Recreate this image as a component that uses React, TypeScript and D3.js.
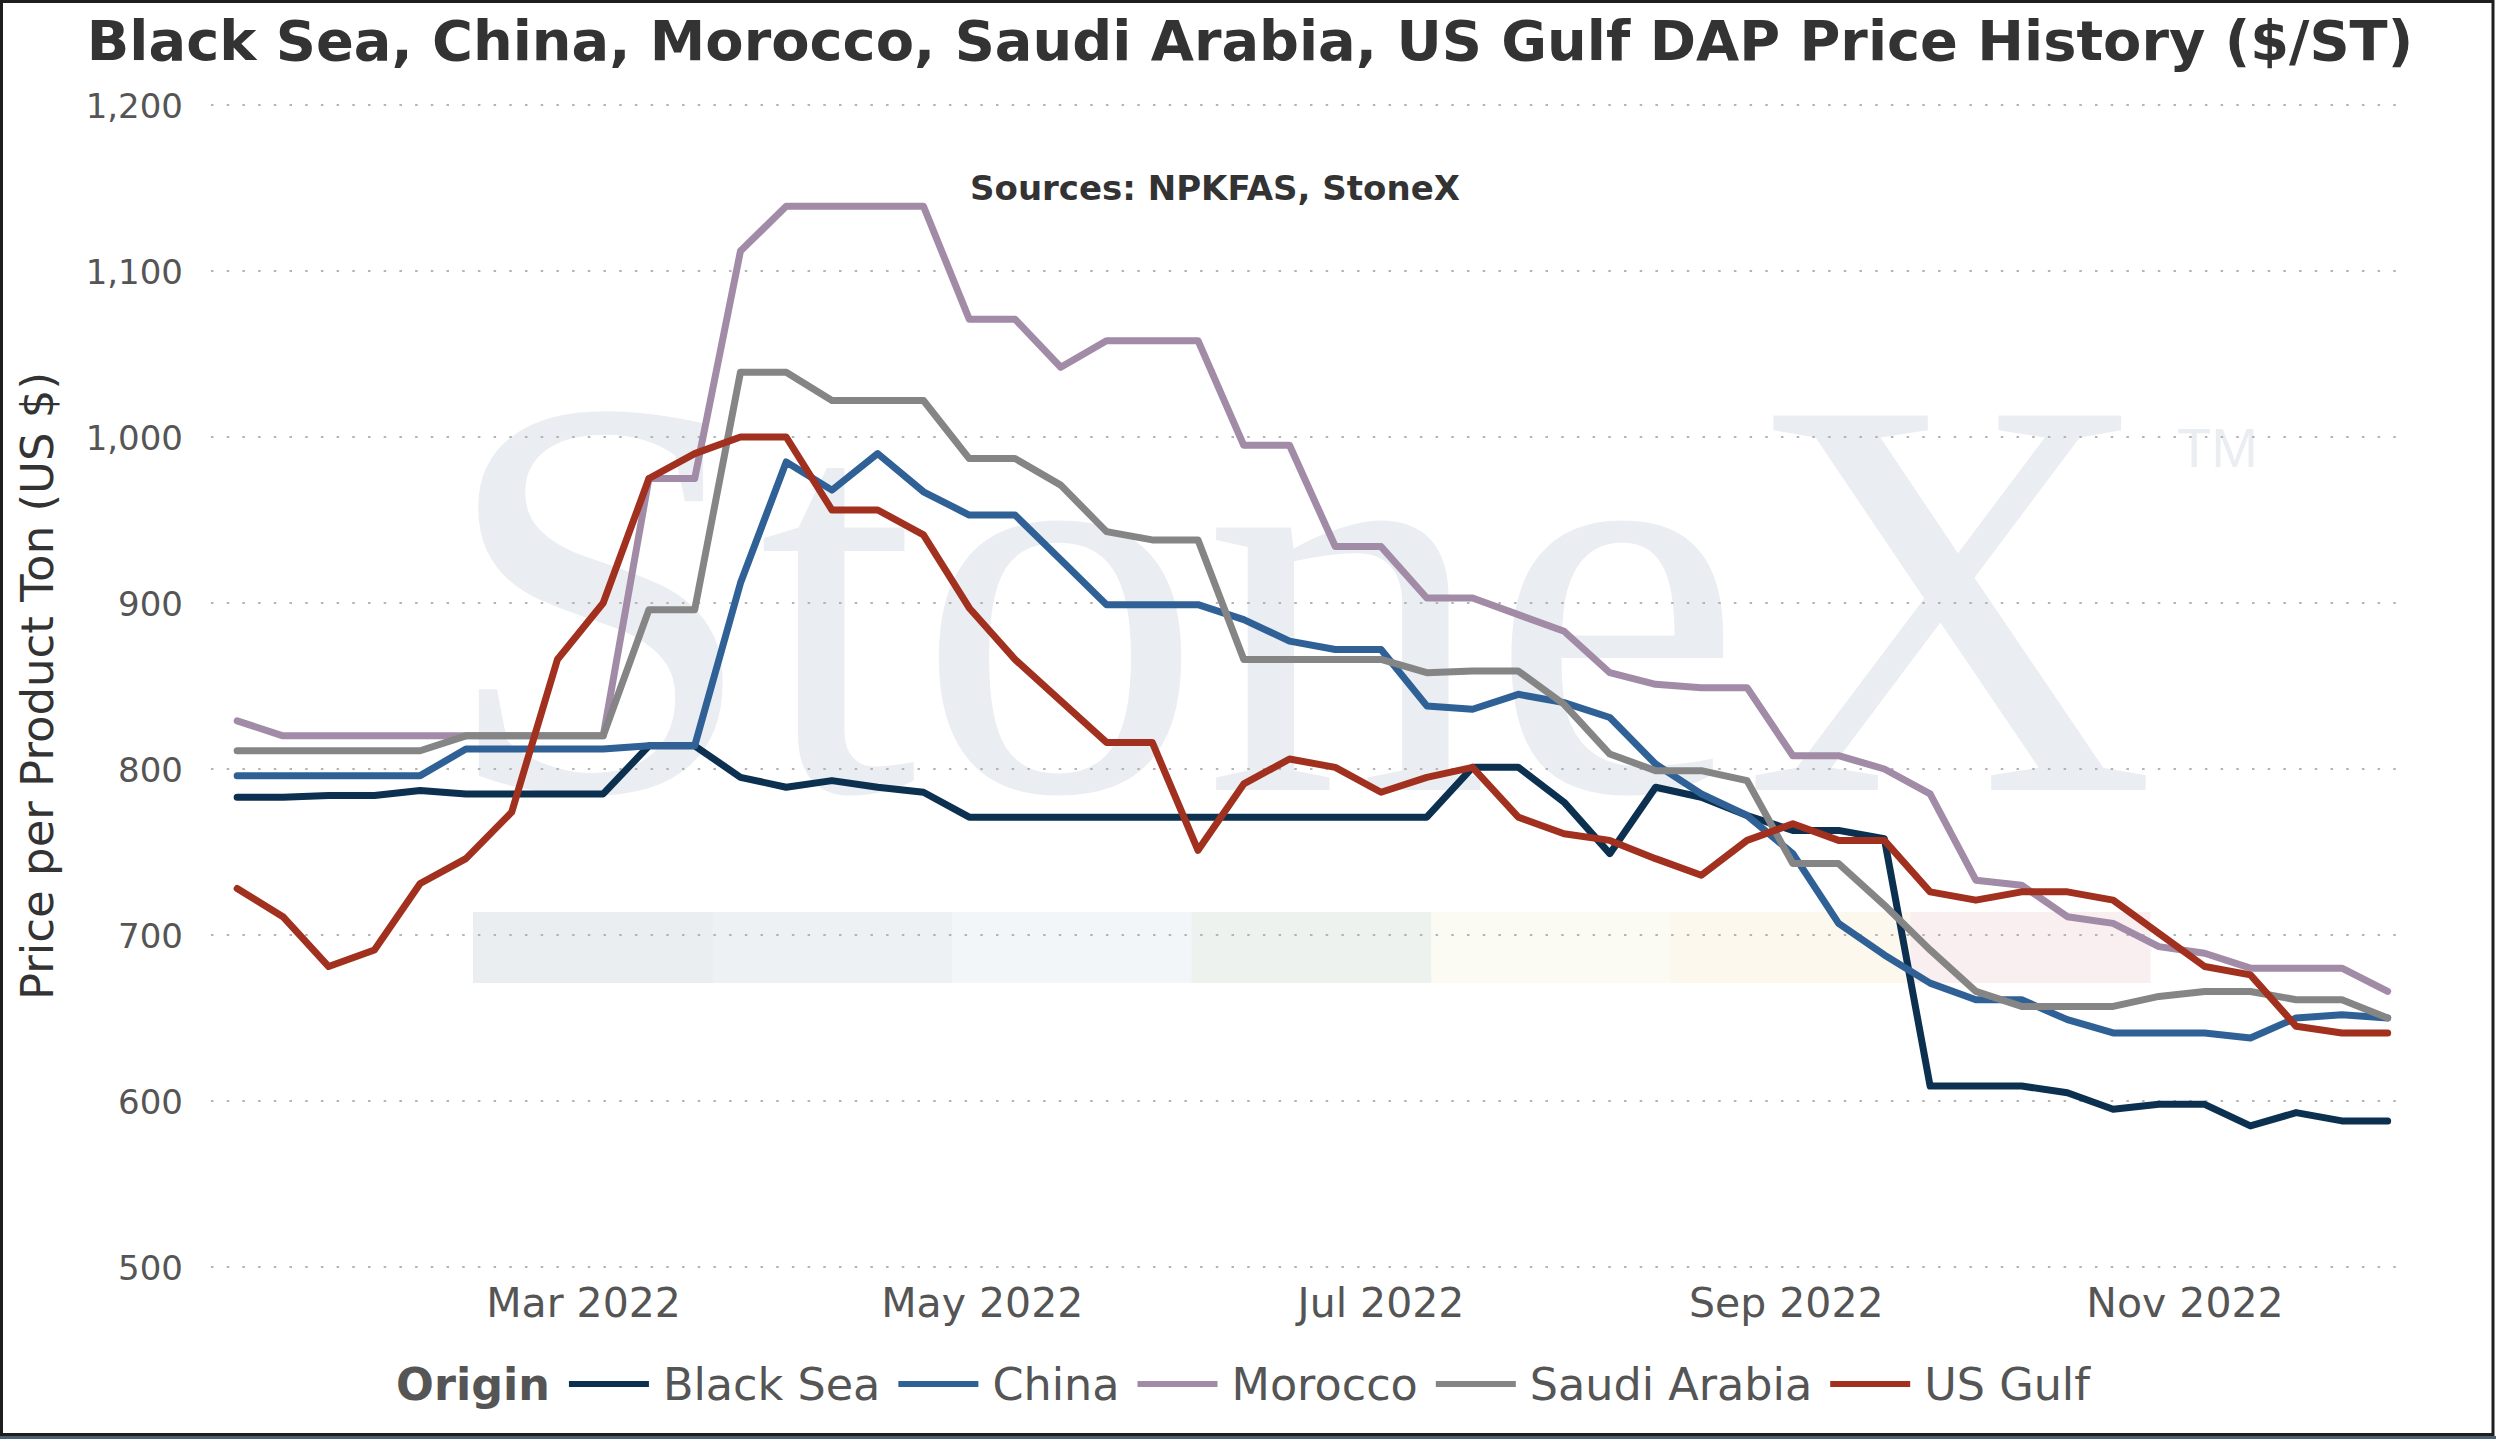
import { useEffect, useRef } from 'react'
import * as d3 from 'd3'

const W = 2496
const H = 1439
const FONT = '"DejaVu Sans", Verdana, sans-serif'

// weekly Friday prices, Jan 7 2022 .. Dec 2 2022
const DATES = d3.timeFriday.range(new Date(2022, 0, 7), new Date(2022, 11, 3))

const BLACK_SEA = [783, 783, 784, 784, 787, 785, 785, 785, 785, 814, 814, 795, 789, 793, 789, 786, 771, 771, 771, 771, 771, 771, 771, 771, 771, 771, 771, 801, 801, 780, 749, 789, 783, 772, 763, 763, 758, 609, 609, 609, 605, 595, 598, 598, 585, 593, 588, 588]
const CHINA = [796, 796, 796, 796, 796, 812, 812, 812, 812, 814, 814, 912, 985, 968, 990, 967, 953, 953, 926, 899, 899, 899, 890, 877, 872, 872, 838, 836, 845, 840, 831, 803, 785, 772, 749, 707, 688, 671, 661, 661, 649, 641, 641, 641, 638, 650, 652, 650]
const MOROCCO = [829, 820, 820, 820, 820, 820, 820, 820, 820, 975, 975, 1112, 1139, 1139, 1139, 1139, 1071, 1071, 1042, 1058, 1058, 1058, 995, 995, 934, 934, 903, 903, 893, 883, 858, 851, 849, 849, 808, 808, 800, 785, 733, 730, 711, 707, 693, 689, 680, 680, 680, 666]
const SAUDI = [811, 811, 811, 811, 811, 820, 820, 820, 820, 896, 896, 1039, 1039, 1022, 1022, 1022, 987, 987, 971, 943, 938, 938, 866, 866, 866, 866, 858, 859, 859, 839, 809, 799, 799, 793, 743, 743, 718, 691, 666, 657, 657, 657, 663, 666, 666, 661, 661, 650]
const US_GULF = [728, 711, 681, 691, 731, 746, 774, 866, 900, 975, 990, 1000, 1000, 956, 956, 941, 897, 866, 841, 816, 816, 751, 791, 806, 801, 786, 795, 801, 771, 761, 757, 746, 736, 757, 767, 757, 757, 726, 721, 726, 726, 721, 701, 681, 676, 645, 641, 641]

const ORIGINS = ['Black Sea', 'China', 'Morocco', 'Saudi Arabia', 'US Gulf']
const COLORS = ['#0c3050', '#2f6197', '#a18ba6', '#858585', '#a1301f']
const VALUES = [BLACK_SEA, CHINA, MOROCCO, SAUDI, US_GULF]

const Y_TICKS = [500, 600, 700, 800, 900, 1000, 1100, 1200]
const X_TICKS = [new Date(2022, 2, 1), new Date(2022, 4, 1), new Date(2022, 6, 1), new Date(2022, 8, 1), new Date(2022, 10, 1)]

// StoneX logo colour strip behind the plot
const BAND_COLORS = ['#ebeef1', '#edf1f4', '#f2f6f9', '#edf2ee', '#fbfbf3', '#fcf8ee', '#f9eef0']

const PLOT = { l: 211, r: 2404, t: 105, b: 1267 }

export default function App() {
  const svgRef = useRef<SVGSVGElement>(null)

  useEffect(() => {
    document.body.style.margin = '0'
    const svg = d3.select(svgRef.current)
    svg.selectAll('*').remove()

    const x = d3.scaleTime()
      .domain([new Date(2022, 0, 3), new Date(2022, 11, 4, 12)])
      .range([PLOT.l, PLOT.r])
    const y = d3.scaleLinear().domain([500, 1200]).range([PLOT.b, PLOT.t])

    svg.append('rect').attr('width', W).attr('height', H).attr('fill', '#fff')

    // watermark
    svg.append('text').attr('x', 440).attr('y', 790)
      .attr('font-family', '"Liberation Serif", "Times New Roman", serif')
      .attr('font-size', 572).attr('fill', '#eaedf1').text('StoneX')
    svg.append('text').attr('x', 2177).attr('y', 467)
      .attr('font-family', '"Liberation Sans", Arial, sans-serif')
      .attr('font-size', 56).attr('fill', '#eaedf1').text('TM')
    const bw = (2150 - 473) / BAND_COLORS.length
    BAND_COLORS.forEach((c, i) => {
      svg.append('rect').attr('x', 473 + i * bw).attr('y', 912)
        .attr('width', bw + 0.5).attr('height', 71).attr('fill', c)
    })

    // grid + y ticks
    Y_TICKS.forEach(t => {
      svg.append('line').attr('x1', PLOT.l).attr('x2', PLOT.r).attr('y1', y(t)).attr('y2', y(t))
        .attr('stroke', '#b4b4b4').attr('stroke-width', 2).attr('stroke-dasharray', '2.5,13.2')
      svg.append('text').attr('x', 183).attr('y', y(t) + 12.5)
        .attr('text-anchor', 'end').attr('font-family', FONT).attr('font-size', 34)
        .attr('fill', '#555').text(d3.format(',')(t))
    })

    // x ticks
    X_TICKS.forEach(t => {
      svg.append('text').attr('x', x(t)).attr('y', 1317)
        .attr('text-anchor', 'middle').attr('font-family', FONT).attr('font-size', 41)
        .attr('fill', '#555').text(d3.timeFormat('%b %Y')(t))
    })

    // lines
    const line = d3.line<number>()
      .x((_, i) => x(DATES[i]))
      .y(v => y(v))
    VALUES.forEach((vals, i) => {
      svg.append('path').datum(vals).attr('d', line)
        .attr('fill', 'none').attr('stroke', COLORS[i]).attr('stroke-width', 7)
        .attr('stroke-linejoin', 'round').attr('stroke-linecap', 'round')
    })

    // titles
    svg.append('text').attr('x', 1250).attr('y', 60).attr('text-anchor', 'middle')
      .attr('font-family', FONT).attr('font-weight', 'bold').attr('font-size', 55.8)
      .attr('fill', '#333').text('Black Sea, China, Morocco, Saudi Arabia, US Gulf DAP Price History ($/ST)')
    svg.append('text').attr('x', 1215).attr('y', 200).attr('text-anchor', 'middle')
      .attr('font-family', FONT).attr('font-weight', 'bold').attr('font-size', 34)
      .attr('fill', '#333').text('Sources: NPKFAS, StoneX')
    svg.append('text').attr('transform', 'translate(53,686) rotate(-90)')
      .attr('text-anchor', 'middle').attr('font-family', FONT).attr('font-size', 45)
      .attr('fill', '#333').text('Price per Product Ton (US $)')

    // legend
    const lg = svg.append('g')
    let lx = 0
    const head = lg.append('text').attr('x', 0).attr('y', 1400)
      .attr('font-family', FONT).attr('font-weight', 'bold').attr('font-size', 44.5)
      .attr('fill', '#555').text('Origin')
    lx += (head.node() as SVGTextElement).getComputedTextLength() + 19
    ORIGINS.forEach((name, i) => {
      lg.append('line').attr('x1', lx).attr('x2', lx + 80).attr('y1', 1384).attr('y2', 1384)
        .attr('stroke', COLORS[i]).attr('stroke-width', 6)
      const t = lg.append('text').attr('x', lx + 94).attr('y', 1400)
        .attr('font-family', FONT).attr('font-size', 44.5).attr('fill', '#555').text(name)
      lx += 94 + (t.node() as SVGTextElement).getComputedTextLength() + 18
    })
    lg.attr('transform', `translate(${1243 - (lx - 18) / 2},0)`)

    // frame
    svg.append('rect').attr('x', 0).attr('y', 1436).attr('width', W).attr('height', 3).attr('fill', '#4b6070')
    svg.append('rect').attr('x', 1.5).attr('y', 1.5).attr('width', W - 4.5).attr('height', 1433)
      .attr('fill', 'none').attr('stroke', '#1e1e1e').attr('stroke-width', 3)
  }, [])

  return <svg ref={svgRef} width={W} height={H} style={{ display: 'block' }} />
}
